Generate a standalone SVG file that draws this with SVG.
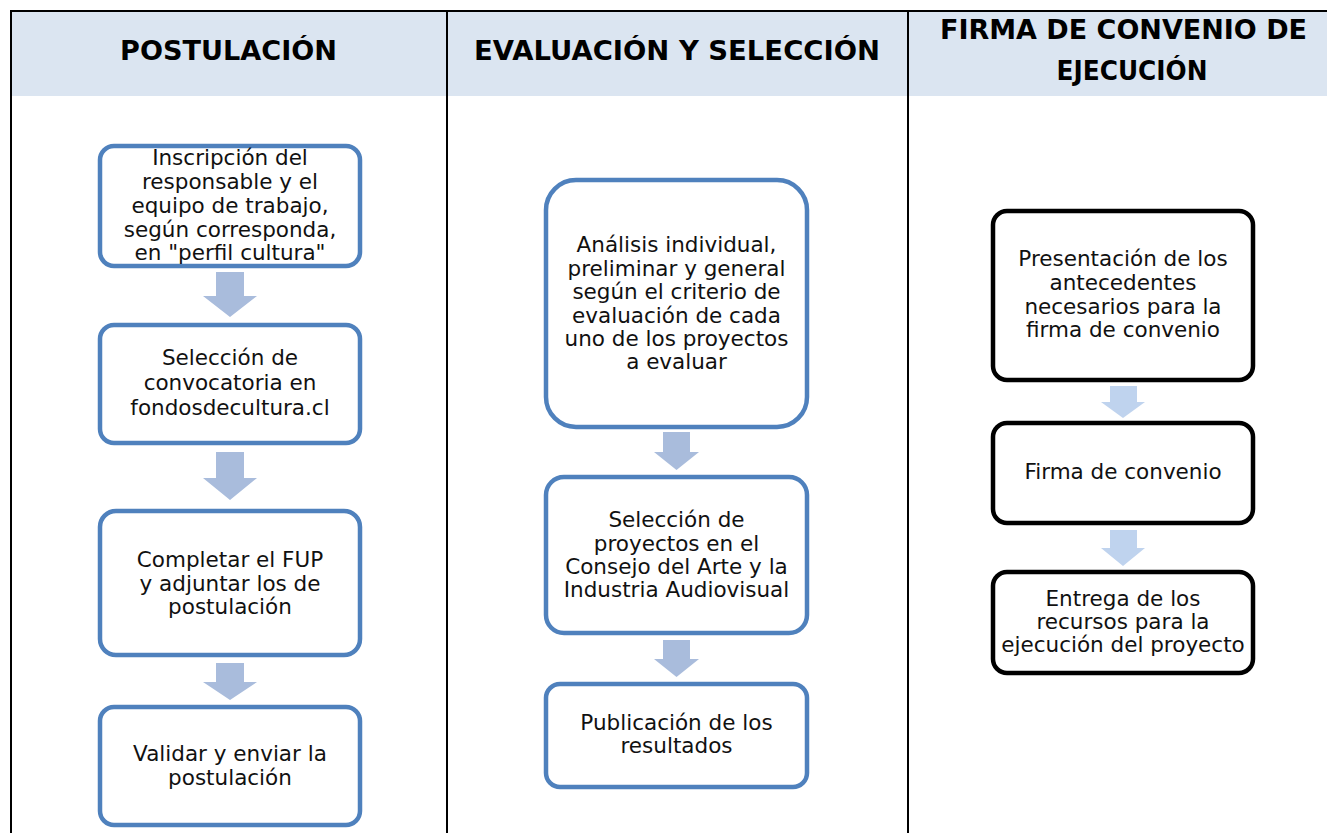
<svg xmlns="http://www.w3.org/2000/svg" width="1327" height="833" viewBox="0 0 1327 833">
<style>
.hdr{font-family:"DejaVu Sans","Verdana",sans-serif;font-weight:bold;font-size:26.5px;fill:#000;text-anchor:middle}
.t{font-family:"DejaVu Sans","Verdana",sans-serif;font-size:21.5px;fill:#111;text-anchor:middle}
.bb{fill:#fff;stroke:#4f81bd;stroke-width:4.5}
.kb{fill:#fff;stroke:#000;stroke-width:4.5}
.a1{fill:#a9bcdc}
.a2{fill:#bfd3ee}
.grid{stroke:#000;stroke-width:2;fill:none}
</style>
<rect x="0" y="0" width="1327" height="833" fill="#fff"/>
<g id="table">
<rect x="11" y="11" width="1316" height="85" fill="#dbe5f1"/>
<line class="grid" x1="10" y1="11" x2="1327" y2="11"/>
<line class="grid" x1="11" y1="10" x2="11" y2="833"/>
<line class="grid" x1="447" y1="10" x2="447" y2="833"/>
<line class="grid" x1="908" y1="10" x2="908" y2="833"/>
<text class="hdr" x="228.5" y="60" textLength="217" lengthAdjust="spacingAndGlyphs">POSTULACIÓN</text>
<text class="hdr" x="677" y="60" textLength="406" lengthAdjust="spacingAndGlyphs">EVALUACIÓN Y SELECCIÓN</text>
<text class="hdr" x="1123.5" y="39" textLength="367" lengthAdjust="spacingAndGlyphs">FIRMA DE CONVENIO DE</text>
<text class="hdr" x="1132" y="80" textLength="151" lengthAdjust="spacingAndGlyphs">EJECUCIÓN</text>
</g>
<g id="connectors">
<polygon class="a1" points="216,272 244,272 244,296 257,296 230,317 203,296 216,296"/>
<polygon class="a1" points="216,452 244,452 244,478 257,478 230,500 203,478 216,478"/>
<polygon class="a1" points="216,663 244,663 244,682 257,682 230,700 203,682 216,682"/>
<polygon class="a1" points="663,432 690,432 690,452 699,452 676.5,470 654,452 663,452"/>
<polygon class="a1" points="663,640 690,640 690,659 699,659 676.5,677 654,659 663,659"/>
<polygon class="a2" points="1110,386 1137,386 1137,402 1145,402 1123,418 1101,402 1110,402"/>
<polygon class="a2" points="1110,530 1137,530 1137,548 1145,548 1123,566 1101,548 1110,548"/>
</g>
<g id="n1">
<rect class="bb" x="100" y="146" width="260" height="120" rx="14"/>
<text class="t" x="230" y="165">Inscripción del</text>
<text class="t" x="230" y="189">responsable y el</text>
<text class="t" x="230" y="213">equipo de trabajo,</text>
<text class="t" x="230" y="237">según corresponda,</text>
<text class="t" x="230" y="260">en "perfil cultura"</text>
</g>
<g id="n2">
<rect class="bb" x="100" y="325" width="260" height="118" rx="14"/>
<text class="t" x="230" y="365">Selección de</text>
<text class="t" x="230" y="390">convocatoria en</text>
<text class="t" x="230" y="415">fondosdecultura.cl</text>
</g>
<g id="n3">
<rect class="bb" x="100" y="511" width="260" height="144" rx="16"/>
<text class="t" x="230" y="567">Completar el FUP</text>
<text class="t" x="230" y="591">y adjuntar los de</text>
<text class="t" x="230" y="614">postulación</text>
</g>
<g id="n4">
<rect class="bb" x="100" y="707" width="260" height="118" rx="14"/>
<text class="t" x="230" y="761">Validar y enviar la</text>
<text class="t" x="230" y="785">postulación</text>
</g>
<g id="n5">
<rect class="bb" x="546" y="180" width="261" height="247" rx="30"/>
<text class="t" x="676.5" y="252">Análisis individual,</text>
<text class="t" x="676.5" y="276">preliminar y general</text>
<text class="t" x="676.5" y="299">según el criterio de</text>
<text class="t" x="676.5" y="323">evaluación de cada</text>
<text class="t" x="676.5" y="346">uno de los proyectos</text>
<text class="t" x="676.5" y="369">a evaluar</text>
</g>
<g id="n6">
<rect class="bb" x="546" y="477" width="261" height="156" rx="18"/>
<text class="t" x="676.5" y="527">Selección de</text>
<text class="t" x="676.5" y="551">proyectos en el</text>
<text class="t" x="676.5" y="574">Consejo del Arte y la</text>
<text class="t" x="676.5" y="597">Industria Audiovisual</text>
</g>
<g id="n7">
<rect class="bb" x="546" y="684" width="261" height="103" rx="14"/>
<text class="t" x="676.5" y="730">Publicación de los</text>
<text class="t" x="676.5" y="753">resultados</text>
</g>
<g id="n8">
<rect class="kb" x="993" y="211" width="260" height="169" rx="14"/>
<text class="t" x="1123" y="266">Presentación de los</text>
<text class="t" x="1123" y="290">antecedentes</text>
<text class="t" x="1123" y="314">necesarios para la</text>
<text class="t" x="1123" y="337">firma de convenio</text>
</g>
<g id="n9">
<rect class="kb" x="993" y="423" width="260" height="100" rx="14"/>
<text class="t" x="1123" y="479">Firma de convenio</text>
</g>
<g id="n10">
<rect class="kb" x="993" y="572" width="260" height="101" rx="14"/>
<text class="t" x="1123" y="606">Entrega de los</text>
<text class="t" x="1123" y="629">recursos para la</text>
<text class="t" x="1123" y="652">ejecución del proyecto</text>
</g>
</svg>
